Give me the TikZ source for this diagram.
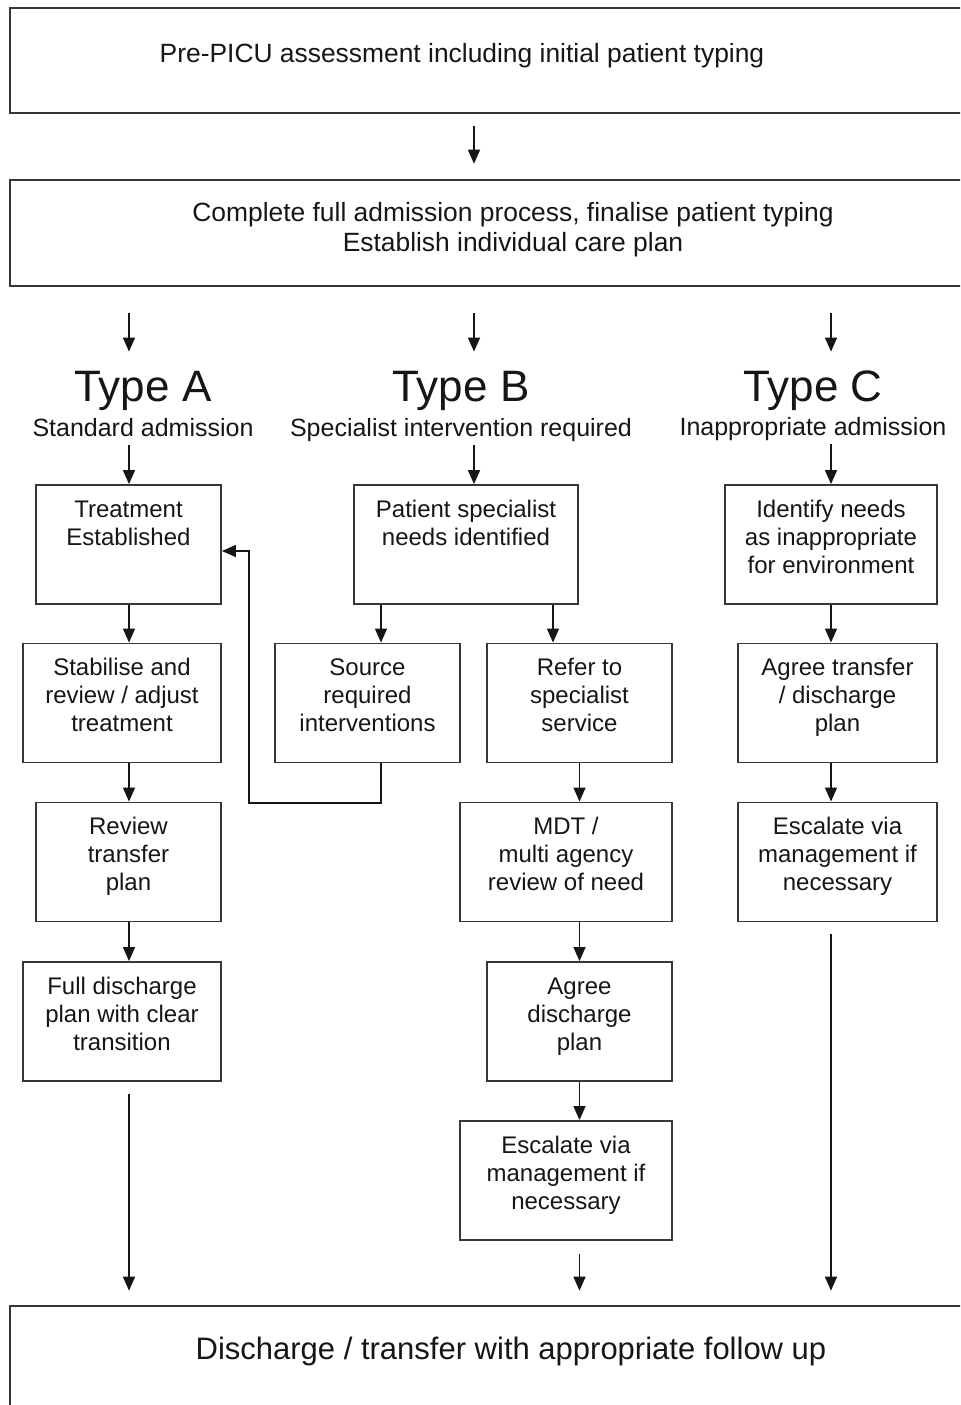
\documentclass[tikz,border=0pt]{standalone}
\usepackage{fontspec}
\setmainfont{Liberation Sans}
\usepackage{xcolor}
\usetikzlibrary{arrows.meta,positioning}
\definecolor{boxline}{RGB}{55,55,55}
\definecolor{inkgray}{RGB}{22,22,22}
\newcommand{\boxtext}[2]{\parbox[c][59.5pt][t]{#1}{\centering\rule{0pt}{16pt}#2}}

\begin{document}
\begin{tikzpicture}[x=0.5pt,y=-0.5pt,
  wide/.style={draw=boxline,line width=1.3pt,inner sep=0pt,minimum width=495pt},
  widetxt/.style={font=\fontsize{13.2}{15}\selectfont,align=center,text=inkgray,inner sep=0pt},
  stage/.style={draw=boxline,line width=0.95pt,inner sep=0pt,
                font=\fontsize{12}{14}\selectfont,text=inkgray},
  typehead/.style={font=\fontsize{22}{24}\selectfont,anchor=base,inner sep=0pt,
                   text height=16pt,text depth=0pt,text=inkgray},
  typesub/.style={font=\fontsize{12.5}{14}\selectfont,anchor=base,inner sep=0pt,
                  text height=9pt,text depth=3pt,text=inkgray},
  arr/.style={-{Triangle[length=7pt,width=6pt]},line width=0.75pt,draw=inkgray}]

\fill[white] (0,0) rectangle (960,1405);
\useasboundingbox (0,0) rectangle (960,1405);
\clip (0,0) rectangle (960,1405);

% ------------- wide boxes -------------
\node[wide,minimum height=52.5pt] (pre) at (505,60.5) {};
\node[widetxt] (pretxt) at (462,56) {Pre-PICU assessment including initial patient typing};
\node[wide,minimum height=53pt] (adm) at (505,233) {};
\node[widetxt] (admtxt) at (513,230)
  {Complete full admission process, finalise patient typing\\Establish individual care plan};
\node[wide,minimum height=72pt] (dis) at (505,1378) {};
\node[widetxt,font=\fontsize{15.5}{17}\selectfont] (distxt) at (511,1351)
  {Discharge / transfer with appropriate follow up};

% columns of the arrows
\coordinate (xa) at (129,0);
\coordinate (xb) at (474,0);
\coordinate (xc) at (831,0);
\coordinate (xbl) at (381,0);
\coordinate (xbr) at (553,0);
\coordinate (fb) at (249,551);
\coordinate (fbl) at (249,803);

% ------------- type headings -------------
\node[typehead] (typea) at (143,401) {Type A};
\node[typesub] (suba) at (143,436) {Standard admission};
\node[typehead] (typeb) at (461,401) {Type B};
\node[typesub] (subb) at (461,436) {Specialist intervention required};
\node[typehead] (typec) at (813,401) {Type C};
\node[typesub] (subc) at (813,435) {Inappropriate admission};

% ------------- type A -------------
\node[stage] (a1) at (128.5,544.5) {\boxtext{92.5pt}{Treatment\\Established}};
\node[stage] (a2) at (122,703) {\boxtext{99pt}{Stabilise and\\review / adjust\\treatment}};
\node[stage] (a3) at (128.5,862) {\boxtext{92.5pt}{Review\\transfer\\plan}};
\node[stage] (a4) at (122,1021.5) {\boxtext{99pt}{Full discharge\\plan with clear\\transition}};

% ------------- type B -------------
\node[stage] (b1) at (466,544.5) {\boxtext{112pt}{Patient specialist\\needs identified}};
\node[stage] (src) at (367.5,703) {\boxtext{92.5pt}{Source\\required\\interventions}};
\node[stage] (ref) at (579.5,703) {\boxtext{92.5pt}{Refer to\\specialist\\service}};
\node[stage] (mdt) at (566,862) {\boxtext{106pt}{MDT /\\multi agency\\review of need}};
\node[stage] (agr) at (579.5,1021.5) {\boxtext{92.5pt}{Agree\\discharge\\plan}};
\node[stage] (escb) at (566,1180.5) {\boxtext{106pt}{Escalate via\\management if\\necessary}};

% ------------- type C -------------
\node[stage] (c1) at (831,544.5) {\boxtext{106pt}{Identify needs\\as inappropriate\\for environment}};
\node[stage] (c2) at (837.5,703) {\boxtext{99.5pt}{Agree transfer\\/ discharge\\plan}};
\node[stage] (c3) at (837.5,862) {\boxtext{99.5pt}{Escalate via\\management if\\necessary}};

% ------------- arrows -------------
\draw[arr,shorten <=6pt,shorten >=7.5pt] (pre.south -| xb) -- (adm.north -| xb);
\foreach \c/\t in {xa/typea,xb/typeb,xc/typec}
  \draw[arr,shorten <=13pt,shorten >=8.5pt] (adm.south -| \c) -- (\t.north -| \c);
\draw[arr,shorten <=1.5pt] (suba.south -| xa) -- (a1.north -| xa);
\draw[arr,shorten <=1.5pt] (subb.south -| xb) -- (b1.north -| xb);
\draw[arr,shorten <=1.5pt] (subc.south -| xc) -- (c1.north -| xc);

\draw[arr] (a1.south -| xa) -- (a2.north -| xa);
\draw[arr] (a2.south -| xa) -- (a3.north -| xa);
\draw[arr] (a3.south -| xa) -- (a4.north -| xa);

\draw[arr] (b1.south -| xbl) -- (src.north -| xbl);
\draw[arr] (b1.south -| xbr) -- (ref.north -| xbr);
\draw[arr] (ref.south) -- (ref.south |- mdt.north);
\draw[arr] (mdt.south -| agr) -- (agr.north);
\draw[arr] (agr.south) -- (agr.south |- escb.north);
\draw[arr] (src.south -| xbl) |- (fbl) -- (fb) -- (a1.east |- fb);

\draw[arr] (c1.south -| xc) -- (c2.north -| xc);
\draw[arr] (c2.south -| xc) -- (c3.north -| xc);

\draw[arr,shorten <=6pt,shorten >=7pt] (a4.south -| xa) -- (dis.north -| xa);
\draw[arr,shorten <=6.5pt,shorten >=7pt] (escb.south -| agr) -- (dis.north -| agr);
\draw[arr,shorten <=6pt,shorten >=7pt] (c3.south -| xc) -- (dis.north -| xc);

\end{tikzpicture}
\end{document}
